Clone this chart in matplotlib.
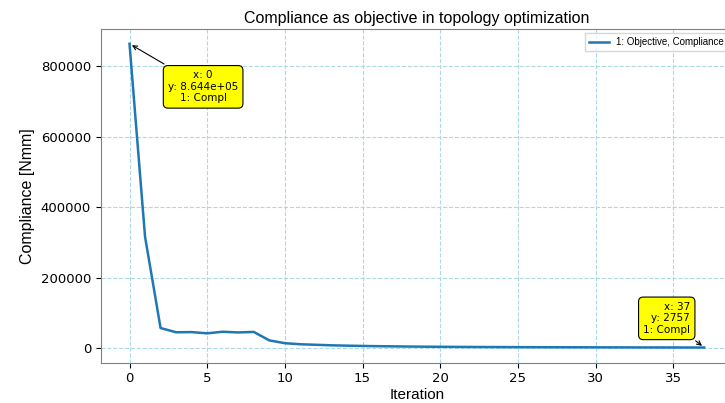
import matplotlib
matplotlib.use("Agg")
import matplotlib.pyplot as plt

# Objective history
iterations = list(range(38))
compliance = [864400, 317000, 58000, 46000, 46500, 43000, 47500, 45500, 47000, 23000,
              15000, 12000, 10500, 9000, 8000, 7200, 6500, 6000, 5500, 5100,
              4800, 4500, 4300, 4100, 3950, 3800, 3700, 3600, 3500, 3400,
              3300, 3200, 3100, 3000, 2950, 2900, 2820, 2757]

series_label = "1: Objective, Compliance"
first_note = "x: 0\ny: 8.644e+05\n1: Compl"
last_note = "x: 37\ny: 2757\n1: Compl"

fig = plt.figure(figsize=(7.25, 4.03), dpi=100)
ax = fig.add_axes([0.139, 0.1, 0.872, 0.829])

ax.plot(iterations, compliance, color="#1f77b4", linewidth=1.8, label=series_label)

ax.grid(True, linestyle="--", color="#add8e6", linewidth=0.8)
for s in ax.spines.values():
    s.set_color("#808080")

ax.set_title("Compliance as objective in topology optimization",
             fontsize=11.5, family="Liberation Sans", pad=4)
ax.set_xlabel("Iteration", fontsize=11, family="Liberation Sans", labelpad=2)
ax.set_ylabel("Compliance [Nmm]", fontsize=11.5, family="Liberation Sans")
ax.tick_params(labelsize=9.5, colors="black")
ax.set_xticks(range(0, 40, 5))
ax.set_yticks([0, 200000, 400000, 600000, 800000])

leg = ax.legend(loc="upper right", prop={"family": "Liberation Sans", "size": 7},
                fancybox=False)
leg.get_frame().set_edgecolor("#cccccc")

box = dict(boxstyle="round,pad=0.45", fc="yellow", ec="black", lw=0.8)
arrow = dict(arrowstyle="->", color="black", lw=0.8)
ax.annotate(first_note, xy=(iterations[0], compliance[0]), xytext=(53, -31),
            textcoords="offset points", fontsize=7.5, ha="center", va="center",
            multialignment="center", bbox=box, arrowprops=arrow)
ax.annotate(last_note, xy=(iterations[-1], compliance[-1]), xytext=(-27, 21),
            textcoords="offset points", fontsize=7.5, ha="center", va="center",
            multialignment="right", bbox=box, arrowprops=arrow)

fig.savefig("out.png", dpi=100)
